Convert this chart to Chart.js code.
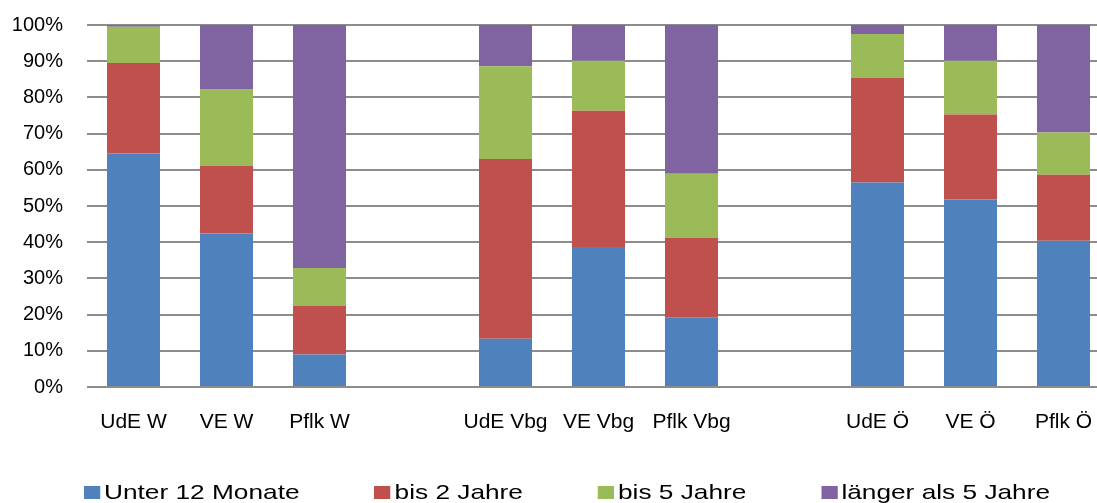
<!DOCTYPE html>
<html>
<head>
<meta charset="utf-8">
<script src="https://cdn.jsdelivr.net/npm/chart.js@4"></script>
<style>
  html, body { margin: 0; padding: 0; background: #fff; overflow: hidden; }
  #wrap { position: relative; width: 1134px; height: 503px; }
  #legend {
    position: absolute; left: 84px; top: 480px;
    display: flex; gap: 60px;
    font: 21px "Liberation Sans", Arial, sans-serif; line-height: 24px; color: #000;
    transform: scaleX(1.25); transform-origin: left top; white-space: nowrap;
  }
  #legend span.item { display: flex; align-items: center; }
  #legend span.box { display: inline-block; width: 13px; height: 13px; margin-right: 3px; }
</style>
</head>
<body>
<div id="wrap">
  <canvas id="chart" width="1134" height="503"></canvas>
  <div id="legend"></div>
</div>
<script>
// Kategorien (leere Einträge = Abstand zwischen den Gruppen)
var categories = ['UdE W', 'VE W', 'Pflk W', '', 'UdE Vbg', 'VE Vbg', 'Pflk Vbg', '', 'UdE Ö', 'VE Ö', 'Pflk Ö'];

var seriesNames = ['Unter 12 Monate', 'bis 2 Jahre', 'bis 5 Jahre', 'länger als 5 Jahre'];
var seriesColors = ['#4F81BD', '#C0504D', '#9BBB59', '#8064A2'];

// Anteile in %
var unter12 = [64.5, 42.4, 9.0, null, 13.3, 38.7, 19.3, null, 56.5, 51.8, 40.4];
var bis2    = [25.0, 18.7, 13.4, null, 49.7, 37.6, 21.9, null, 28.9, 23.5, 18.2];
var bis5    = [10.0, 21.2, 10.5, null, 25.6, 13.8, 17.7, null, 12.1, 14.8, 11.7];
var laenger = [0.5, 17.7, 67.1, null, 11.4, 9.9, 41.1, null, 2.5, 9.9, 29.7];

var yTicks = [0, 10, 20, 30, 40, 50, 60, 70, 80, 90, 100];

var seriesData = [unter12, bis2, bis5, laenger];

Chart.defaults.font.family = '"Liberation Sans", Arial, sans-serif';
Chart.defaults.color = '#000';

var datasets = seriesNames.map(function (name, i) {
    return {
        label: name,
        data: seriesData[i],
        backgroundColor: seriesColors[i],
        borderWidth: 0,
        barPercentage: 0.57,
        categoryPercentage: 1.0
    };
});

var ctx = document.getElementById('chart');
var chart = new Chart(ctx, {
    type: 'bar',
    data: {
        labels: categories,
        datasets: datasets
    },
    options: {
        responsive: false,
        animation: false,
        layout: {
            padding: { left: 12, right: 24, top: 25, bottom: 66 }
        },
        scales: {
            x: {
                stacked: true,
                grid: { display: false, drawTicks: false },
                border: { display: false },
                ticks: {
                    padding: 23,
                    maxRotation: 0,
                    autoSkip: false,
                    font: { size: 21 }
                },
                afterFit: function (axis) { axis.height = 50; }
            },
            y: {
                stacked: true,
                min: 0,
                max: 100,
                afterBuildTicks: function (axis) {
                    axis.ticks = yTicks.map(function (v) { return { value: v }; });
                },
                grid: { color: '#8c8c8c', lineWidth: 2, drawTicks: false },
                border: { display: false },
                ticks: {
                    padding: 24,
                    font: { size: 20 },
                    callback: function (v) { return v + '%'; }
                },
                afterFit: function (axis) {
                    axis.width = 75;
                    axis.paddingTop = 0;
                    axis.paddingBottom = 0;
                }
            }
        },
        plugins: {
            legend: { display: false },
            tooltip: { enabled: false }
        }
    }
});

// Legende als HTML
var legend = document.getElementById('legend');
seriesNames.forEach(function (name, i) {
    var item = document.createElement('span');
    item.className = 'item';
    var box = document.createElement('span');
    box.className = 'box';
    box.style.background = seriesColors[i];
    item.appendChild(box);
    item.appendChild(document.createTextNode(name));
    legend.appendChild(item);
});
</script>
</body>
</html>
